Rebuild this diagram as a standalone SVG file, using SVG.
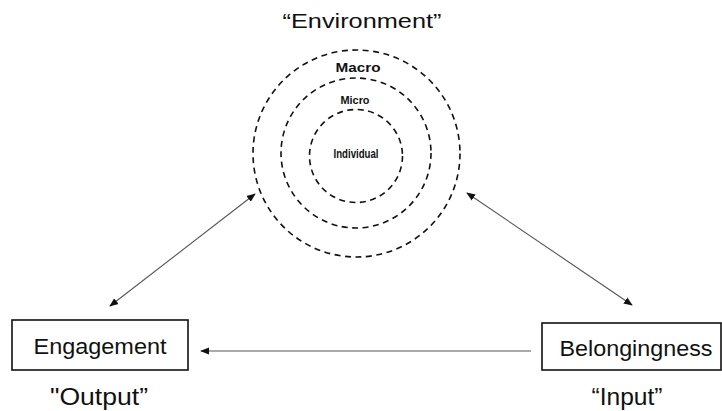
<svg xmlns="http://www.w3.org/2000/svg" width="722" height="411" viewBox="0 0 722 411">
  <style>
    .ring { fill: none; stroke: #111; stroke-width: 1.6; stroke-dasharray: 6 4.5; }
    .box { fill: #fff; stroke: #111; stroke-width: 1.6; }
    .lbl { font-family: "Liberation Sans", Arial, sans-serif; fill: #111; text-anchor: middle; }
    .ring-lbl { font-family: "Liberation Sans", Arial, sans-serif; font-weight: bold; fill: #111; text-anchor: middle; }
    .link { fill: none; stroke: #555; stroke-width: 1.1; }
  </style>
  <defs>
    <marker id="head" viewBox="0 0 10 10" refX="9" refY="5" markerWidth="9" markerHeight="9" markerUnits="userSpaceOnUse" orient="auto-start-reverse">
      <path d="M0,1 L10,5 L0,9 Z" fill="#111"/>
    </marker>
  </defs>
  <rect width="722" height="411" fill="#fff"/>

  <g id="environment">
    <text class="lbl" x="362" y="28" font-size="21" textLength="159" lengthAdjust="spacingAndGlyphs">“Environment”</text>
    <circle class="ring" cx="356.5" cy="153.5" r="103.5"/>
    <circle class="ring" cx="356" cy="153" r="75"/>
    <circle class="ring" cx="356" cy="156" r="46.5"/>
    <text class="ring-lbl" x="358" y="72" font-size="13.5" textLength="45" lengthAdjust="spacingAndGlyphs">Macro</text>
    <text class="ring-lbl" x="355" y="104" font-size="10" textLength="29" lengthAdjust="spacingAndGlyphs">Micro</text>
    <text class="ring-lbl" x="356" y="158" font-size="12" textLength="45" lengthAdjust="spacingAndGlyphs">Individual</text>
  </g>

  <g id="engagement">
    <rect class="box" x="12" y="320" width="176" height="50"/>
    <text class="lbl" x="100" y="354" font-size="22" textLength="133" lengthAdjust="spacingAndGlyphs">Engagement</text>
    <text class="lbl" x="99" y="405" font-size="23" textLength="98" lengthAdjust="spacingAndGlyphs">"Output”</text>
  </g>

  <g id="belongingness">
    <rect class="box" x="542" y="323" width="179" height="47"/>
    <text class="lbl" x="636" y="356" font-size="22" textLength="153" lengthAdjust="spacingAndGlyphs">Belongingness</text>
    <text class="lbl" x="627" y="405" font-size="23" textLength="71" lengthAdjust="spacingAndGlyphs">“Input”</text>
  </g>

  <g id="connectors">
    <line class="link" x1="110" y1="306" x2="255" y2="194" marker-start="url(#head)" marker-end="url(#head)"/>
    <line class="link" x1="467" y1="193" x2="632" y2="305" marker-start="url(#head)" marker-end="url(#head)"/>
    <line class="link" x1="531" y1="351" x2="201" y2="351" marker-end="url(#head)"/>
  </g>
</svg>
